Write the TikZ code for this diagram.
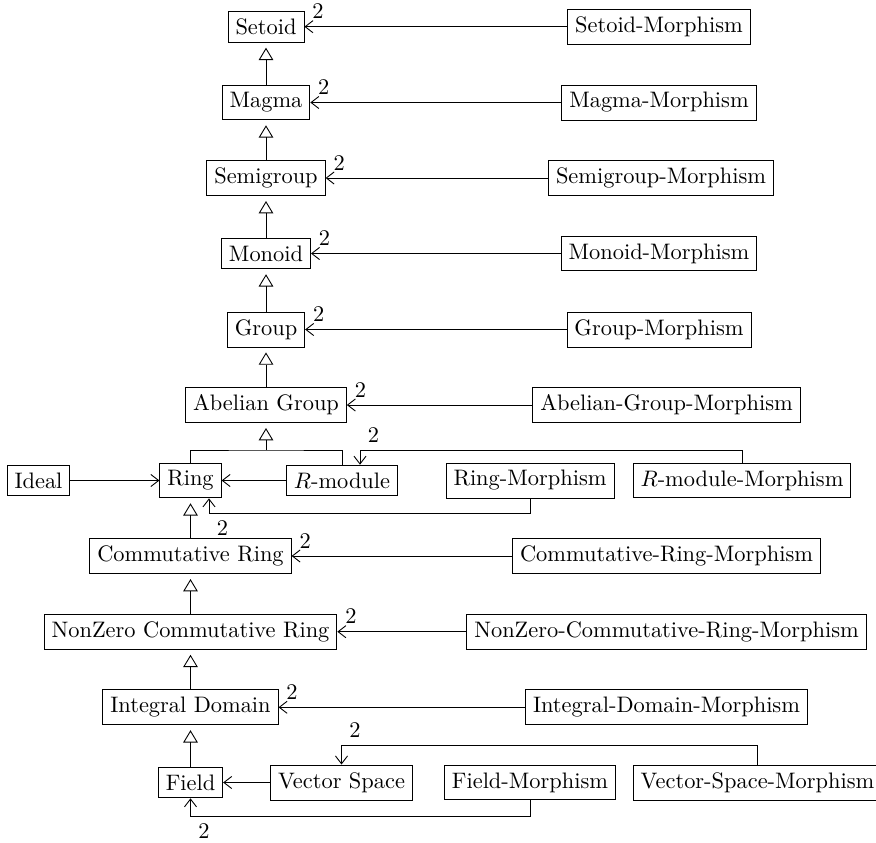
\documentclass[tikz,border=0pt]{standalone}
\usetikzlibrary{arrows.meta}
\begin{document}
\begin{tikzpicture}[x=0.44643pt,y=-0.44643pt,
  cls/.style={draw, rectangle, inner sep=0.3333em, line width=0.4pt},
  inh/.style={-{Triangle[open,length=5.5pt,width=6.5pt]}, shorten >=2.2pt},
  assoc/.style={-{Straight Barb[length=3.5pt,width=5.4pt]}},
  mult/.style={inner sep=0.3333em}]
\useasboundingbox (0,0) rectangle (876,843);
% left column
\node[cls] (setoid) at (266,26.7) {Setoid};
\node[cls] (magma) at (266,102.5) {Magma};
\node[cls] (semigroup) at (266,178) {Semigroup};
\node[cls] (monoid) at (266,253.5) {Monoid};
\node[cls] (group) at (266,329.5) {Group};
\node[cls] (ag) at (266,405) {Abelian Group};
\node[cls] (ideal) at (38.5,480.5) {Ideal};
\node[cls] (ring) at (190.5,480.5) {Ring};
\node[cls] (rmod) at (342,480.5) {$R$-module};
\node[cls] (ringm) at (530,480.5) {Ring-Morphism};
\node[cls] (rmodm) at (742,480.5) {$R$-module-Morphism};
\node[cls] (cring) at (190.5,556) {Commutative Ring};
\node[cls] (nzcr) at (190.5,631.7) {NonZero Commutative Ring};
\node[cls] (idom) at (190.5,707.3) {Integral Domain};
\node[cls] (field) at (190.5,782.5) {Field};
\node[cls] (vs) at (341.5,782.5) {Vector Space};
\node[cls] (fieldm) at (530,782.5) {Field-Morphism};
\node[cls] (vsm) at (757.5,782.5) {Vector-Space-Morphism};
% right column
\node[cls] (setoidm) at (659,26.7) {Setoid-Morphism};
\node[cls] (magmam) at (659,102.5) {Magma-Morphism};
\node[cls] (semigroupm) at (661,178) {Semigroup-Morphism};
\node[cls] (monoidm) at (659,253.5) {Monoid-Morphism};
\node[cls] (groupm) at (659,329.5) {Group-Morphism};
\node[cls] (agm) at (666.5,405) {Abelian-Group-Morphism};
\node[cls] (cringm) at (666.5,556) {Commutative-Ring-Morphism};
\node[cls] (nzcrm) at (666.5,631.7) {NonZero-Commutative-Ring-Morphism};
\node[cls] (idomm) at (666.5,707.3) {Integral-Domain-Morphism};
% inheritance
\draw[inh] (magma) -- (setoid);
\draw[inh] (semigroup) -- (magma);
\draw[inh] (monoid) -- (semigroup);
\draw[inh] (group) -- (monoid);
\draw[inh] (ag) -- (group);
\coordinate (bus) at (266,450);
\draw[inh] (bus) -- (ag);
\draw (ring.north) |- (bus) -| (rmod.north);
\draw[inh] (cring) -- (ring);
\draw[inh] (nzcr) -- (cring);
\draw[inh] (idom) -- (nzcr);
\draw[inh] (field) -- (idom);
% associations
\draw[assoc] (setoidm) -- (setoid) node[mult, pos=1, above right] (l1) {2};
\draw[assoc] (magmam) -- (magma) node[mult, pos=1, above right] (l2) {2};
\draw[assoc] (semigroupm) -- (semigroup) node[mult, pos=1, above right] (l3) {2};
\draw[assoc] (monoidm) -- (monoid) node[mult, pos=1, above right] (l4) {2};
\draw[assoc] (groupm) -- (group) node[mult, pos=1, above right] (l5) {2};
\draw[assoc] (agm) -- (ag) node[mult, pos=1, above right] (l6) {2};
\draw[assoc] (cringm) -- (cring) node[mult, pos=1, above right] (l7) {2};
\draw[assoc] (nzcrm) -- (nzcr) node[mult, pos=1, above right] (l8) {2};
\draw[assoc] (idomm) -- (idom) node[mult, pos=1, above right] (l9) {2};
\draw[assoc] (ideal) -- (ring);
\draw[assoc] (rmod) -- (ring);
\draw[assoc] (vs) -- (field);
% bent associations
\coordinate (c1) at (360,450);
\draw[assoc] (rmodm.north) |- (c1) -- (c1 |- rmod.north);
\node[mult, above right] (l10) at (c1) {2};
\coordinate (c2) at (209,513);
\draw[assoc] (ringm.south) |- (c2) -- (c2 |- ring.south);
\node[mult, below right] (l11) at (c2) {2};
\coordinate (c3) at (341.5,745);
\draw[assoc] (vsm.north) |- (c3) -- (c3 |- vs.north);
\node[mult, above right] (l12) at (c3) {2};
\coordinate (c4) at (190.5,816);
\draw[assoc] (fieldm.south) |- (c4) -- (c4 |- field.south);
\node[mult, below right] (l13) at (c4) {2};
\end{tikzpicture}
\end{document}
